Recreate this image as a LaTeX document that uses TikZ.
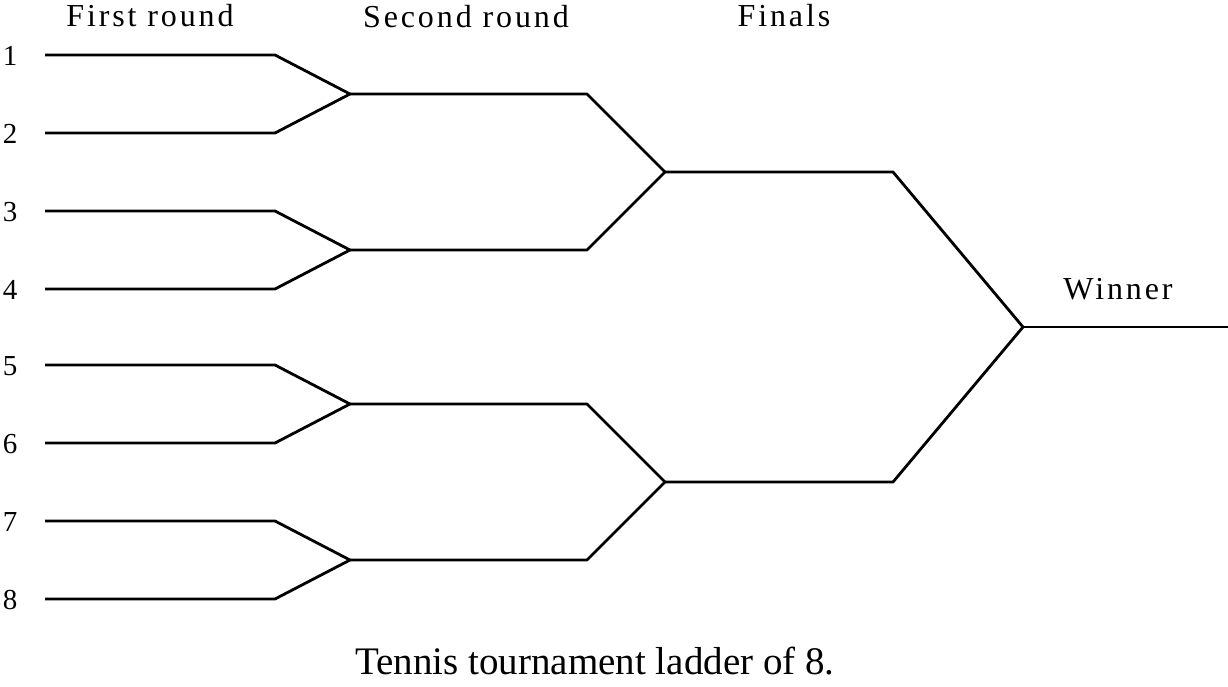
\documentclass[tikz,border=0pt]{standalone}
\usepackage{fontspec}
\setmainfont{Liberation Serif}
\begin{document}
\begin{tikzpicture}[x=1pt,y=-1pt,
  bline/.style={line width=2.8pt, line join=round, line cap=butt},
  lbl/.style={font=\fontsize{32}{36}\selectfont\addfontfeature{LetterSpace=9}, anchor=base, inner sep=0pt},
  num/.style={font=\fontsize{29}{34}\selectfont, anchor=base, inner sep=0pt},
  captext/.style={font=\fontsize{39}{45}\selectfont, anchor=base, inner sep=0pt}]
\useasboundingbox (0,0) rectangle (1228,686);
% players
\foreach \i/\y in {1/55,2/133,3/211,4/289,5/365,6/443,7/521,8/599}{
  \coordinate (s\i) at (45,\y);
  \coordinate (a\i) at (275,\y);
  \node[num] (n\i) at (10,\y+10) {\i};
}
% second round
\foreach \i/\y in {1/94,2/250,3/404,4/560}{
  \coordinate (b\i) at (350,\y);
  \coordinate (c\i) at (587,\y);
}
% finals
\coordinate (d1) at (665,172);
\coordinate (e1) at (893,172);
\coordinate (d2) at (665,482);
\coordinate (e2) at (893,482);
% winner
\coordinate (w) at (1023,327);
\coordinate (wend) at (1228,327);
% first round brackets
\draw[bline] (s1) -- (a1) -- (b1);
\draw[bline] (s2) -- (a2) -- (b1);
\draw[bline] (s3) -- (a3) -- (b2);
\draw[bline] (s4) -- (a4) -- (b2);
\draw[bline] (s5) -- (a5) -- (b3);
\draw[bline] (s6) -- (a6) -- (b3);
\draw[bline] (s7) -- (a7) -- (b4);
\draw[bline] (s8) -- (a8) -- (b4);
% second round brackets
\draw[bline] (b1) -- (c1) -- (d1);
\draw[bline] (b2) -- (c2) -- (d1);
\draw[bline] (b3) -- (c3) -- (d2);
\draw[bline] (b4) -- (c4) -- (d2);
% finals brackets
\draw[bline] (d1) -- (e1) -- (w);
\draw[bline] (d2) -- (e2) -- (w);
\draw[bline] (w) -- (wend);
% labels
\node[lbl] (l1) at (150,26) {First round};
\node[lbl] (l2) at (466,27) {Second round};
\node[lbl] (l3) at (784,26) {Finals};
\node[lbl] (l4) at (1118,299) {Winner};
\node[captext] (caption) at (595,674) {Tennis tournament ladder of 8.};
\end{tikzpicture}
\end{document}
